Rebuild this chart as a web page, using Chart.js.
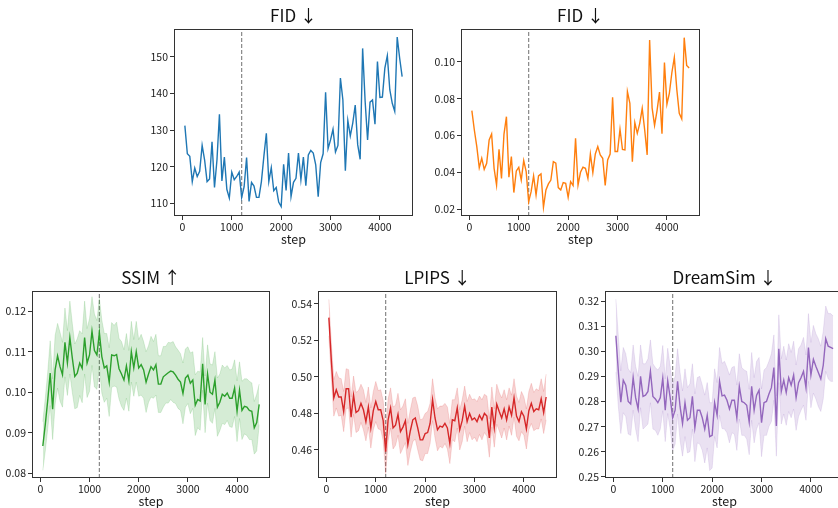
<!DOCTYPE html>
<html><head><meta charset="utf-8">
<script src="https://cdn.jsdelivr.net/npm/chart.js@4/dist/chart.umd.min.js"></script>
<style>
html,body{margin:0;padding:0;background:#fff;width:838px;height:508px;overflow:hidden;position:relative}
.p{position:absolute}
</style></head><body>
<div class="p" id="w1"><canvas id="c1"></canvas></div>
<div class="p" id="w2"><canvas id="c2"></canvas></div>
<div class="p" id="w3"><canvas id="c3"></canvas></div>
<div class="p" id="w4"><canvas id="c4"></canvas></div>
<div class="p" id="w5"><canvas id="c5"></canvas></div>
<script>
const steps = [50,100,150,200,250,300,350,400,450,500,
550,600,650,700,750,800,850,900,950,1000,
1050,1100,1150,1200,1250,1300,1350,1400,1450,1500,
1550,1600,1650,1700,1750,1800,1850,1900,1950,2000,
2050,2100,2150,2200,2250,2300,2350,2400,2450,2500,
2550,2600,2650,2700,2750,2800,2850,2900,2950,3000,
3050,3100,3150,3200,3250,3300,3350,3400,3450,3500,
3550,3600,3650,3700,3750,3800,3850,3900,3950,4000,
4050,4100,4150,4200,4250,4300,4350,4400,4450];

const fidBlue = [131.2,123.5,122.8,115.9,119.6,117.3,118.7,125.8,121.8,115.9,
116.6,126.8,114.3,121.8,134.3,116.1,122.6,113.8,111.4,118.5,
116.4,117.3,118.5,111.6,114.5,122.5,110.5,115.7,114.7,111.6,
111.6,115.9,122.8,129.1,115.9,119.7,113.4,114.3,110.3,109.1,
120.6,113.5,123.7,111.8,115.7,116.8,123.7,116.4,122.6,114.8,
123.2,124.4,123.7,120.5,111.8,121.1,123.5,140.3,124.9,127.3,
130.2,124.0,125.8,144.2,138.2,118.9,132.6,128.4,131.9,136.8,
126.0,122.0,152.3,138.0,127.3,137.6,138.2,131.6,148.7,138.9,
139.0,146.9,150.3,141.0,137.3,135.1,155.4,149.6,144.6];

const fidOrange = [0.0735,0.0630,0.0540,0.0426,0.0477,0.0417,0.0450,0.0576,0.0608,0.0422,
0.0332,0.0525,0.0368,0.0606,0.0702,0.0374,0.0486,0.0291,0.0408,0.0428,
0.0359,0.0464,0.0404,0.0242,0.0296,0.0381,0.0278,0.0381,0.0392,0.0211,
0.0305,0.0338,0.0359,0.0458,0.0450,0.0318,0.0305,0.0345,0.0341,0.0265,
0.0350,0.0329,0.0585,0.0332,0.0401,0.0428,0.0422,0.0368,0.0500,0.0399,
0.0500,0.0540,0.0495,0.0477,0.0329,0.0468,0.0500,0.0807,0.0513,0.0513,
0.0634,0.0525,0.0522,0.0838,0.0774,0.0458,0.0670,0.0612,0.0666,0.0747,
0.0630,0.0495,0.1117,0.0750,0.0655,0.0735,0.0835,0.0610,0.0995,0.0770,
0.0830,0.0940,0.1023,0.0850,0.0720,0.0690,0.1130,0.0980,0.0966];

const ssimMean = [0.0867,0.0920,0.0980,0.1047,0.0958,0.1055,0.1090,0.1063,0.1043,0.1123,
0.1072,0.1135,0.1084,0.1039,0.1047,0.1072,0.1059,0.1135,0.1072,0.1092,
0.1151,0.1103,0.1092,0.1147,0.1088,0.1060,0.1065,0.1025,0.1092,0.1090,
0.1093,0.1058,0.1045,0.1030,0.1065,0.1028,0.1100,0.1060,0.1100,0.1060,
0.1068,0.1055,0.1025,0.1045,0.1063,0.1055,0.1068,0.1020,0.1020,0.1038,
0.1043,0.1048,0.1052,0.1050,0.1042,0.1032,0.1025,0.0997,0.1035,0.1042,
0.1022,0.1030,0.0968,0.0982,0.0978,0.1070,0.0970,0.1045,0.1000,0.0995,
0.1030,0.0963,0.0975,0.0995,0.0990,0.0998,0.0985,0.0985,0.1010,0.0953,
0.1005,0.0955,0.0965,0.0963,0.0955,0.0953,0.0912,0.0925,0.0970];
const ssimStd = [0.0060,0.0065,0.0070,0.0080,0.0075,0.0085,0.0080,0.0085,0.0080,0.0085,
0.0080,0.0090,0.0085,0.0080,0.0085,0.0080,0.0085,0.0090,0.0085,0.0090,
0.0085,0.0090,0.0085,0.0085,0.0090,0.0085,0.0080,0.0085,0.0080,0.0075,
0.0080,0.0075,0.0080,0.0075,0.0080,0.0075,0.0075,0.0070,0.0075,0.0070,
0.0075,0.0070,0.0075,0.0070,0.0075,0.0070,0.0075,0.0070,0.0070,0.0075,
0.0070,0.0075,0.0070,0.0075,0.0070,0.0072,0.0070,0.0075,0.0072,0.0070,
0.0075,0.0070,0.0075,0.0070,0.0072,0.0065,0.0070,0.0072,0.0070,0.0072,
0.0070,0.0072,0.0070,0.0072,0.0070,0.0068,0.0070,0.0072,0.0070,0.0075,
0.0070,0.0072,0.0068,0.0070,0.0072,0.0070,0.0065,0.0070,0.0050];

const lpipsMean = [0.5325,0.5090,0.4885,0.4930,0.4890,0.4890,0.4810,0.4935,0.4935,0.4780,
0.4900,0.4805,0.4815,0.4855,0.4820,0.4755,0.4835,0.4720,0.4815,0.4865,
0.4820,0.4820,0.4760,0.4590,0.4765,0.4830,0.4720,0.4735,0.4795,0.4700,
0.4725,0.4760,0.4630,0.4705,0.4765,0.4775,0.4720,0.4655,0.4655,0.4690,
0.4695,0.4745,0.4875,0.4775,0.4710,0.4730,0.4725,0.4745,0.4720,0.4635,
0.4765,0.4760,0.4830,0.4710,0.4760,0.4840,0.4755,0.4800,0.4765,0.4775,
0.4755,0.4790,0.4765,0.4800,0.4785,0.4665,0.4835,0.4720,0.4850,0.4810,
0.4775,0.4825,0.4765,0.4835,0.4790,0.4885,0.4785,0.4755,0.4810,0.4785,
0.4715,0.4815,0.4855,0.4810,0.4825,0.4820,0.4880,0.4805,0.4890];
const lpipsStd = [0.0100,0.0095,0.0100,0.0100,0.0105,0.0100,0.0110,0.0110,0.0105,0.0110,
0.0105,0.0110,0.0110,0.0105,0.0110,0.0105,0.0110,0.0110,0.0105,0.0110,
0.0105,0.0110,0.0110,0.0120,0.0115,0.0110,0.0115,0.0110,0.0115,0.0120,
0.0115,0.0120,0.0115,0.0115,0.0120,0.0115,0.0120,0.0110,0.0115,0.0110,
0.0115,0.0110,0.0115,0.0110,0.0115,0.0110,0.0115,0.0110,0.0115,0.0110,
0.0110,0.0115,0.0110,0.0110,0.0115,0.0110,0.0110,0.0105,0.0110,0.0105,
0.0110,0.0105,0.0110,0.0105,0.0110,0.0105,0.0110,0.0105,0.0110,0.0105,
0.0110,0.0105,0.0110,0.0105,0.0110,0.0105,0.0110,0.0105,0.0110,0.0105,
0.0110,0.0105,0.0110,0.0105,0.0110,0.0105,0.0110,0.0115,0.0125];

const dreamMean = [0.3062,0.2920,0.2797,0.2885,0.2865,0.2800,0.2790,0.2895,0.2815,0.2770,
0.2900,0.2820,0.2825,0.2840,0.2920,0.2820,0.2810,0.2795,0.2815,0.2893,
0.2765,0.2882,0.2815,0.2735,0.2765,0.2880,0.2780,0.2712,0.2795,0.2725,
0.2735,0.2820,0.2695,0.2765,0.2765,0.2735,0.2690,0.2745,0.2660,0.2665,
0.2795,0.2745,0.2880,0.2822,0.2825,0.2805,0.2770,0.2805,0.2805,0.2735,
0.2860,0.2800,0.2795,0.2785,0.2718,0.2860,0.2765,0.2825,0.2845,0.2715,
0.2795,0.2800,0.2830,0.2855,0.2935,0.2702,0.3010,0.2840,0.2885,0.2835,
0.2895,0.2865,0.2905,0.2815,0.2875,0.2895,0.2920,0.2855,0.3015,0.2905,
0.2968,0.2940,0.2915,0.2890,0.2945,0.3050,0.3020,0.3015,0.3010];
const dreamStd = [0.0145,0.0140,0.0125,0.0130,0.0125,0.0130,0.0125,0.0130,0.0125,0.0130,
0.0125,0.0130,0.0125,0.0130,0.0125,0.0130,0.0125,0.0130,0.0125,0.0130,
0.0125,0.0130,0.0125,0.0130,0.0135,0.0130,0.0135,0.0130,0.0135,0.0130,
0.0135,0.0130,0.0135,0.0130,0.0135,0.0130,0.0135,0.0130,0.0135,0.0130,
0.0135,0.0130,0.0135,0.0130,0.0135,0.0130,0.0135,0.0130,0.0135,0.0130,
0.0130,0.0135,0.0130,0.0135,0.0130,0.0135,0.0130,0.0135,0.0130,0.0135,
0.0130,0.0135,0.0130,0.0135,0.0130,0.0120,0.0135,0.0130,0.0135,0.0130,
0.0135,0.0130,0.0135,0.0130,0.0135,0.0130,0.0135,0.0130,0.0135,0.0130,
0.0135,0.0130,0.0135,0.0130,0.0135,0.0130,0.0130,0.0135,0.0130];

const xTicks = [0,1000,2000,3000,4000];
const fidBlueTicks = [110,120,130,140,150];
const fidOrangeTicks = [0.02,0.04,0.06,0.08,0.10];
const ssimTicks = [0.08,0.09,0.10,0.11,0.12];
const lpipsTicks = [0.46,0.48,0.50,0.52,0.54];
const dreamTicks = [0.25,0.26,0.27,0.28,0.29,0.30,0.31,0.32];
const markerStep = 1200;
const titles = ['FID ↓','FID ↓','SSIM ↑','LPIPS ↓','DreamSim ↓'];
const xLabel = 'step';

const FONT = "'Noto Sans CJK JP','Noto Sans',sans-serif";
const YW = 50, RP = 8, TT = 28, XH = 40;

const xSpan = steps[steps.length-1] - steps[0];
const xMin = steps[0] - 0.05*xSpan, xMax = steps[steps.length-1] + 0.05*xSpan;

const framePlugin = {
  id:'frame',
  afterDatasetsDraw(chart){
    const {ctx, chartArea:a} = chart;
    ctx.save();
    ctx.strokeStyle = '#333';
    ctx.lineWidth = 1;
    ctx.strokeRect(Math.round(a.left)+0.5, Math.round(a.top)+0.5, Math.round(a.right-a.left)-1, Math.round(a.bottom-a.top)-1);
    ctx.restore();
  }
};

function alpha(hex,a){
  const n=parseInt(hex.slice(1),16);
  return `rgba(${(n>>16)&255},${(n>>8)&255},${n&255},${a})`;
}

function makeChart(n, p){
  const wrap = document.getElementById('w'+n);
  const cv = document.getElementById('c'+n);
  const W = YW + p.w + RP, H = TT + p.h + XH;
  wrap.style.left = (p.left - YW)+'px';
  wrap.style.top = (p.top - TT)+'px';
  cv.width = W; cv.height = H;
  cv.style.width = W+'px'; cv.style.height = H+'px';
  const datasets = [];
  if (p.std){
    datasets.push({data: steps.map((s,i)=>({x:s,y:p.mean[i]+p.std[i]})), borderWidth:0.8, borderColor:alpha(p.color,0.2),
      backgroundColor: alpha(p.color,0.2), fill:'+1', pointRadius:0});
    datasets.push({data: steps.map((s,i)=>({x:s,y:p.mean[i]-p.std[i]})), borderWidth:0.8, borderColor:alpha(p.color,0.2),
      fill:false, pointRadius:0});
  }
  datasets.push({data: steps.map((s,i)=>({x:s,y:p.mean[i]})), borderColor:p.color, borderWidth:1.4, fill:false, pointRadius:0});
  datasets.push({data:[{x:markerStep,y:p.yr[0]},{x:markerStep,y:p.yr[1]}], borderColor:'#888', borderWidth:1.2,
    borderDash:[4,2], fill:false, pointRadius:0});
  new Chart(cv, {
    type:'line',
    data:{datasets},
    options:{
      responsive:false, animation:false, devicePixelRatio:1,
      layout:{padding:{left:0,right:RP,top:0,bottom:0}},
      elements:{line:{tension:0}},
      plugins:{legend:{display:false}, tooltip:{enabled:false},
        title:{display:true, text:p.title, fullSize:false, color:'#111',
          font:{family:FONT, size:17, weight:'normal', lineHeight:'22px'}, padding:{top:4,bottom:2}}},
      scales:{
        x:{type:'linear', min:xMin, max:xMax,
          afterBuildTicks: s => { s.ticks = xTicks.map(v=>({value:v})); },
          afterFit: s => { s.height = XH; },
          ticks:{font:{family:FONT,size:10.5}, color:'#1a1a1a', padding:1, maxRotation:0, autoSkip:false, callback:v=>String(v)},
          grid:{display:true, drawOnChartArea:false, drawTicks:true, tickLength:4, color:'#333'},
          border:{display:false},
          title:{display:true, text:xLabel, color:'#1a1a1a', font:{family:FONT,size:12.5}, padding:{top:0,bottom:9}}
        },
        y:{type:'linear', min:p.yr[0], max:p.yr[1],
          afterBuildTicks: s => { s.ticks = p.ticks.map(v=>({value:v})); },
          afterFit: s => { s.width = YW; },
          ticks:{font:{family:FONT,size:10.5}, color:'#1a1a1a', padding:2, autoSkip:false, callback:v=>Number(v).toFixed(p.dec)},
          grid:{display:true, drawOnChartArea:false, drawTicks:true, tickLength:4, color:'#333'},
          border:{display:false}
        }
      }
    },
    plugins:[framePlugin]
  });
}

makeChart(1,{left:174, top:29, w:239, h:187, mean:fidBlue, color:'#1f77b4', yr:[106.5,157.6], ticks:fidBlueTicks, dec:0, title:titles[0]});
makeChart(2,{left:461, top:29, w:239, h:187, mean:fidOrange, color:'#ff7f0e', yr:[0.0164,0.1177], ticks:fidOrangeTicks, dec:2, title:titles[1]});
makeChart(3,{left:32, top:291, w:238, h:187, mean:ssimMean, std:ssimStd, color:'#2ca02c', yr:[0.0788,0.125], ticks:ssimTicks, dec:2, title:titles[2]});
makeChart(4,{left:318, top:291, w:239, h:187, mean:lpipsMean, std:lpipsStd, color:'#d62728', yr:[0.4446,0.5471], ticks:lpipsTicks, dec:2, title:titles[3]});
makeChart(5,{left:605, top:291, w:239, h:187, mean:dreamMean, std:dreamStd, color:'#9467bd', yr:[0.2495,0.324], ticks:dreamTicks, dec:2, title:titles[4]});
</script>
</body></html>
